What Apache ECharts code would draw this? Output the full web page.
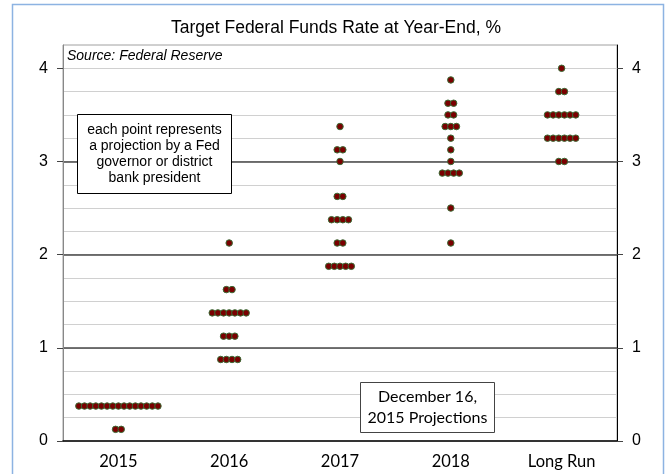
<!DOCTYPE html>
<html lang="en">
<head>
    <meta charset="UTF-8">
    <title>Target Federal Funds Rate</title>
    <script src="https://cdn.jsdelivr.net/npm/echarts@6/dist/echarts.min.js"></script>
    <style>
        html, body { margin: 0; padding: 0; background: #fff; }
    </style>
</head>
<body>
    <div id="main" style="width:672px;height:474px;"></div>
    <script>
        // categories and y ticks
        var categories = ['2015', '2016', '2017', '2018', 'Long Run'];
        var yTicks = [0, 1, 2, 3, 4];
        // each entry: [rate, number of participants]
        var proj2015 = [[0.375, 15], [0.125, 2]];
        var proj2016 = [[2.125, 1], [1.625, 2], [1.375, 7], [1.125, 3], [0.875, 4]];
        var proj2017 = [[3.375, 1], [3.125, 2], [3.0, 1], [2.625, 2], [2.375, 4], [2.125, 2], [1.875, 5]];
        var proj2018 = [[3.875, 1], [3.625, 2], [3.5, 2], [3.375, 3], [3.25, 1], [3.125, 1], [3.0, 1], [2.875, 4], [2.5, 1], [2.125, 1]];
        var projLongRun = [[4.0, 1], [3.75, 2], [3.5, 6], [3.25, 6], [3.0, 2]];

        var allProj = [proj2015, proj2016, proj2017, proj2018, projLongRun];
        // horizontal step between side-by-side dots, in category units
        var dotStep = 0.051;

        var dots = [];
        for (var i = 0; i < allProj.length; i++) {
            for (var k = 0; k < allProj[i].length; k++) {
                var rate = allProj[i][k][0];
                var n = allProj[i][k][1];
                for (var j = 0; j < n; j++) {
                    dots.push([i + 0.5 + (j - (n - 1) / 2) * dotStep, rate]);
                }
            }
        }

        var labelStyle = {
            fontFamily: 'Liberation Sans',
            fontSize: 16,
            color: '#000',
            margin: 15
        };

        var myChart = echarts.init(document.getElementById('main'));
        var option = {
            backgroundColor: '#fff',
            animation: false,
            title: {
                text: 'Target Federal Funds Rate at Year-End, %',
                left: 'center',
                top: 14,
                textStyle: {
                    fontFamily: 'Liberation Sans',
                    fontSize: 17.5,
                    fontWeight: 'normal',
                    color: '#000'
                }
            },
            grid: {
                left: 63,
                right: 55,
                top: 45,
                bottom: 33,
                show: true,
                borderColor: '#a0a0a0',
                borderWidth: 1
            },
            xAxis: [{
                type: 'category',
                data: categories,
                boundaryGap: true,
                axisLine: { lineStyle: { color: '#000', width: 1.5 } },
                axisTick: { length: 5, lineStyle: { color: '#000' } },
                axisLabel: {
                    fontFamily: 'Lato',
                    fontSize: 16.5,
                    color: '#000',
                    margin: 12
                },
                splitLine: { show: false }
            }, {
                type: 'value',
                min: 0,
                max: 5,
                show: false
            }],
            yAxis: [{
                // minor gridlines every 0.25
                type: 'value',
                min: 0,
                max: 4.25,
                interval: 0.25,
                position: 'left',
                axisLine: { show: false },
                axisTick: { show: false },
                axisLabel: { show: false },
                splitLine: {
                    show: true,
                    showMinLine: false,
                    showMaxLine: false,
                    lineStyle: { color: '#d0d0d0', width: 1 }
                }
            }, {
                // left axis with integer ticks and labels
                type: 'value',
                min: 0,
                max: 4.25,
                interval: 1,
                position: 'left',
                axisLine: { show: true, lineStyle: { color: '#888' } },
                axisTick: {
                    show: true,
                    length: 6,
                    customValues: yTicks,
                    lineStyle: { color: '#444' }
                },
                axisLabel: Object.assign({ customValues: yTicks }, labelStyle),
                splitLine: { show: false }
            }, {
                // right axis with major gridlines
                type: 'value',
                min: 0,
                max: 4.25,
                interval: 1,
                position: 'right',
                axisLine: { show: true, lineStyle: { color: '#000' } },
                axisTick: {
                    show: true,
                    length: 6,
                    customValues: yTicks,
                    lineStyle: { color: '#444' }
                },
                axisLabel: Object.assign({ customValues: yTicks }, labelStyle),
                splitLine: {
                    show: true,
                    showMinLine: false,
                    showMaxLine: false,
                    lineStyle: { color: '#474747', width: 1.5 }
                }
            }],
            series: [{
                type: 'scatter',
                xAxisIndex: 1,
                yAxisIndex: 0,
                symbol: 'circle',
                symbolSize: 6.5,
                clip: false,
                itemStyle: {
                    color: '#7a0000',
                    borderColor: '#3b6b35',
                    borderWidth: 1,
                    opacity: 1
                },
                data: dots,
                markLine: {
                    silent: true,
                    symbol: 'none',
                    label: { show: false },
                    lineStyle: { color: '#000', width: 1, type: 'solid' },
                    data: [[{ coord: [4.035, 4.33] }, { coord: [4.035, 0.06] }]]
                }
            }],
            graphic: [{
                type: 'rect',
                shape: { x: 12.5, y: 4.5, width: 651, height: 475 },
                style: { fill: null, stroke: '#8db3e2', lineWidth: 1.5 },
                silent: true
            }, {
                type: 'text',
                left: 67,
                top: 49,
                z: 100,
                style: {
                    text: 'Source: Federal Reserve',
                    font: 'italic 14px "Liberation Sans"',
                    fill: '#000'
                }
            }, {
                type: 'group',
                left: 77,
                top: 114,
                z: 100,
                children: [{
                    type: 'rect',
                    z: 100,
                    shape: { x: 0, y: 0, width: 154, height: 79 },
                    style: { fill: '#fff', stroke: '#000', lineWidth: 1 }
                }, {
                    type: 'text',
                    z: 101,
                    x: 77,
                    y: 40,
                    style: {
                        text: 'each point represents\na projection by a Fed\ngovernor or district\nbank president',
                        font: '14px "Liberation Sans"',
                        fill: '#000',
                        align: 'center',
                        verticalAlign: 'middle',
                        lineHeight: 16
                    }
                }]
            }, {
                type: 'group',
                left: 360,
                top: 382,
                z: 100,
                children: [{
                    type: 'rect',
                    z: 100,
                    shape: { x: 0, y: 0, width: 134, height: 50 },
                    style: { fill: '#fff', stroke: '#444', lineWidth: 1 }
                }, {
                    type: 'text',
                    z: 101,
                    x: 67,
                    y: 25,
                    style: {
                        text: 'December 16,\n2015 Projections',
                        font: '16px Lato',
                        fill: '#000',
                        align: 'center',
                        verticalAlign: 'middle',
                        lineHeight: 21
                    }
                }]
            }]
        };
        myChart.setOption(option);
    </script>
</body>
</html>
